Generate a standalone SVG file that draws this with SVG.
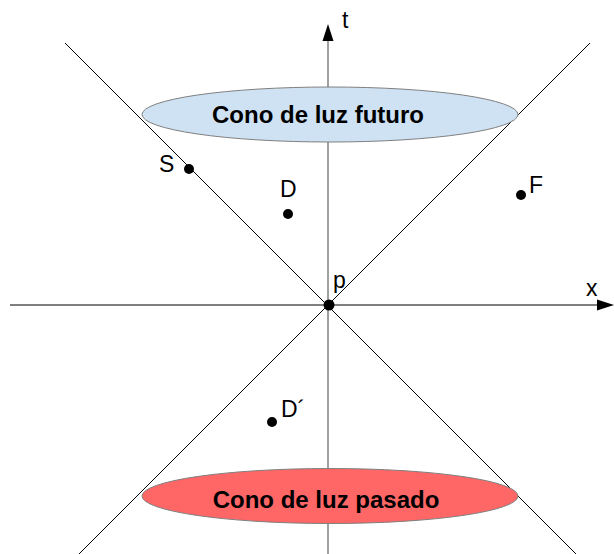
<svg xmlns="http://www.w3.org/2000/svg" width="614" height="554" viewBox="0 0 614 554">
<style>
.lbl{font-family:"Liberation Sans",Arial,sans-serif;font-size:23px;fill:#000}
.big{font-family:"Liberation Sans",Arial,sans-serif;font-size:24px;font-weight:bold;fill:#000;text-anchor:middle}
.dot{fill:#000}
.diag{stroke:#000;stroke-width:1;fill:none}
</style>
<rect width="614" height="554" fill="#fff"/>
<g id="connectors">
<line class="diag" x1="65" y1="43" x2="576" y2="554"/>
<line class="diag" x1="590" y1="43" x2="79" y2="554"/>
<line x1="328" y1="554" x2="328" y2="40" stroke="#808080" stroke-width="1.5"/>
<polygon points="328,24 322.5,41 333.5,41" fill="#000"/>
<line x1="10" y1="305" x2="598" y2="305" stroke="#000" stroke-width="1.2"/>
<polygon points="614,305 597,299.5 597,310.5" fill="#000"/>
</g>
<g id="future">
<ellipse cx="330" cy="114.5" rx="188" ry="27.5" fill="#cfe2f3" stroke="#808080" stroke-width="1"/>
<text class="big" x="318" y="123">Cono de luz futuro</text>
</g>
<g id="past">
<ellipse cx="330" cy="496" rx="188" ry="27.5" fill="#ff6666" stroke="#808080" stroke-width="1"/>
<text class="big" x="326" y="508">Cono de luz pasado</text>
</g>
<g id="t"><text class="lbl" x="342" y="28">t</text></g>
<g id="xlabel"><text class="lbl" x="586" y="296">x</text></g>
<g id="S"><circle class="dot" cx="189" cy="169" r="5"/><text class="lbl" x="159" y="172">S</text></g>
<g id="D"><circle class="dot" cx="288" cy="214" r="5"/><text class="lbl" x="280" y="197">D</text></g>
<g id="F"><circle class="dot" cx="521" cy="195" r="5"/><text class="lbl" x="529" y="193">F</text></g>
<g id="p"><circle class="dot" cx="329" cy="305" r="5.5"/><text class="lbl" x="333" y="288">p</text></g>
<g id="Dp"><circle class="dot" cx="272" cy="422" r="5"/><text class="lbl" x="281" y="417">D´</text></g>
</svg>
